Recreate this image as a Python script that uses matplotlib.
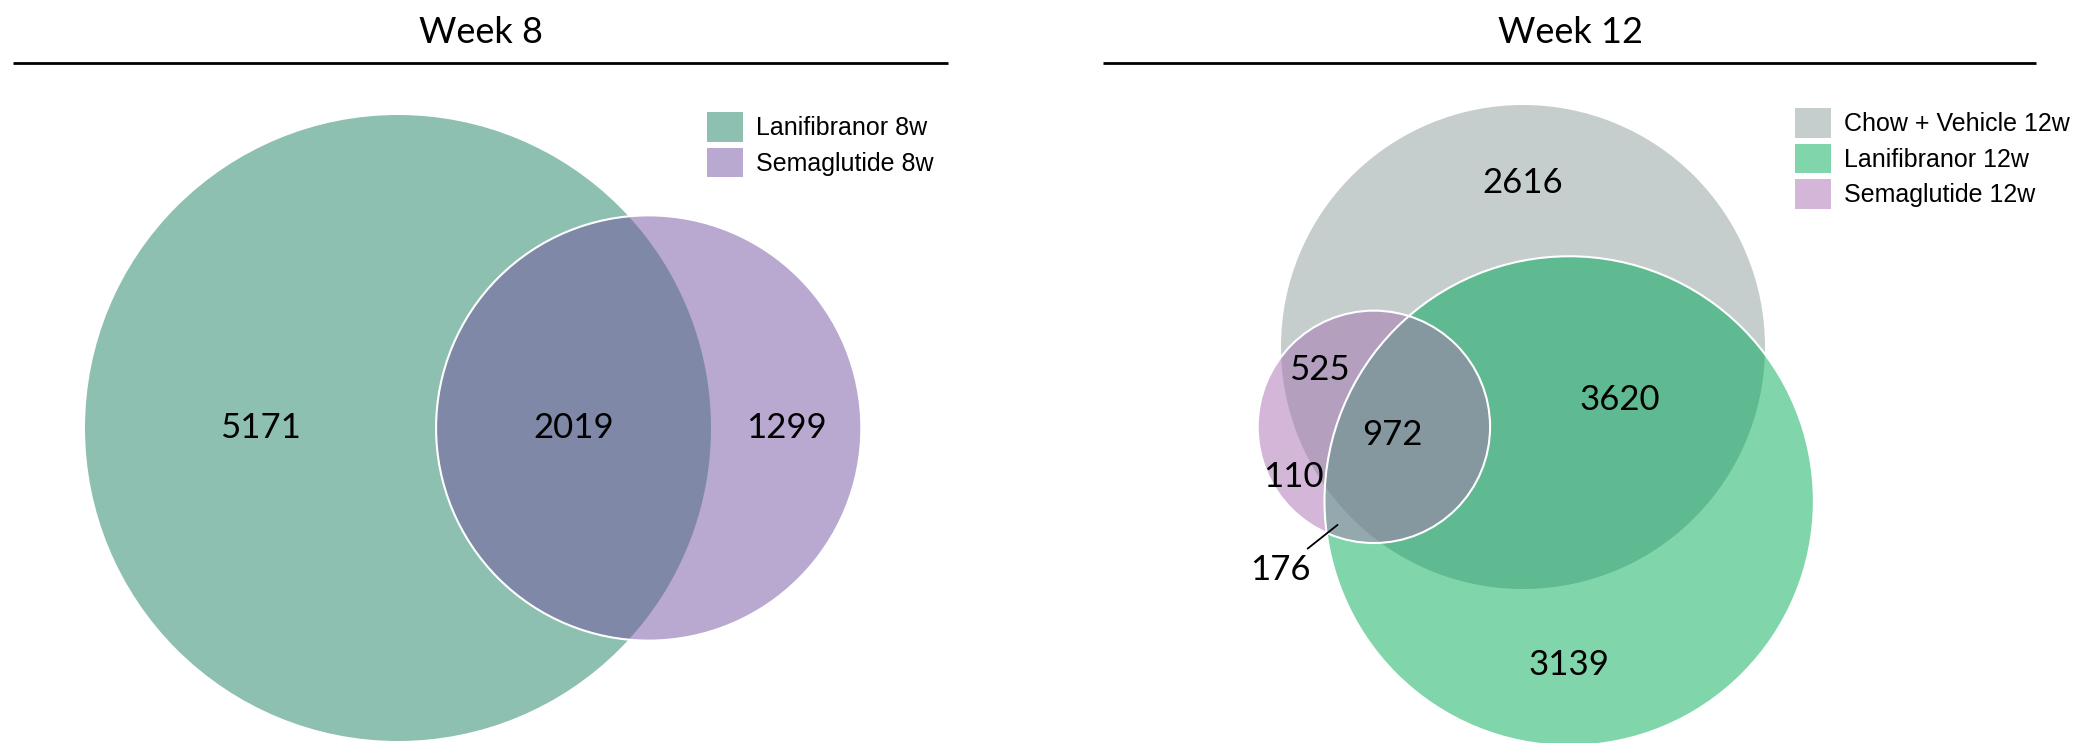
import numpy as np
import matplotlib.pyplot as plt
from matplotlib.patches import Circle, Polygon, Patch

# -------------------------------
# DATA: region counts per Venn diagram
# -------------------------------
week8_sets = ["Lanifibranor 8w", "Semaglutide 8w"]
week8_regions = ["10", "01", "11"]
week8_counts = [5171, 1299, 2019]

week12_sets = ["Chow + Vehicle 12w", "Lanifibranor 12w", "Semaglutide 12w"]
week12_regions = ["100", "010", "001", "110", "101", "011", "111"]
week12_counts = [2616, 3139, 110, 3620, 525, 176, 972]

# colours
week8_colors = {"10": "#8DC0B0", "01": "#B9A8D0", "11": "#8088A8"}
week12_colors = {"100": "#C5CDCD", "010": "#80D6AA", "001": "#D3B6D8",
                 "110": "#5FB991", "101": "#B4A0BE", "011": "#93A9AE",
                 "111": "#8598A0"}

W, H = 2093, 743
NUM_FONT = "Lato"
LEG_FONT = "Liberation Sans"
LEG_SIZE = 18


# -------------------------------
# GEOMETRY HELPERS
# -------------------------------
def set_size(regions, counts, i):
    return sum(c for k, c in zip(regions, counts) if k[i] == "1")


def pair_size(regions, counts, i, j):
    return sum(c for k, c in zip(regions, counts) if k[i] == "1" and k[j] == "1")


def lens_area(r1, r2, d):
    if d >= r1 + r2:
        return 0.0
    if d <= abs(r1 - r2):
        return np.pi * min(r1, r2) ** 2
    a1 = r1 ** 2 * np.arccos((d ** 2 + r1 ** 2 - r2 ** 2) / (2 * d * r1))
    a2 = r2 ** 2 * np.arccos((d ** 2 + r2 ** 2 - r1 ** 2) / (2 * d * r2))
    a3 = 0.5 * np.sqrt((-d + r1 + r2) * (d + r1 - r2) * (d - r1 + r2) * (d + r1 + r2))
    return a1 + a2 - a3


def solve_distance(r1, r2, area):
    lo, hi = abs(r1 - r2), r1 + r2
    for _ in range(100):
        mid = (lo + hi) / 2
        if lens_area(r1, r2, mid) > area:
            lo = mid
        else:
            hi = mid
    return (lo + hi) / 2


def lens_polygon(c1, r1, c2, r2, n=1440):
    t = np.linspace(0, 2 * np.pi, n, endpoint=False)
    ring = np.c_[np.cos(t), np.sin(t)]
    p1 = c1 + r1 * ring
    p2 = c2 + r2 * ring
    p1 = p1[np.hypot(*(p1 - c2).T) <= r2]
    p2 = p2[np.hypot(*(p2 - c1).T) <= r1]
    pts = np.vstack([p1, p2])
    mid = pts.mean(axis=0)
    ang = np.arctan2(pts[:, 1] - mid[1], pts[:, 0] - mid[0])
    return pts[np.argsort(ang)]


class RegionGrid:
    """Pixel grid over a diagram, used to find where region labels go."""

    def __init__(self, centers, radii):
        x0 = min(c[0] - r for c, r in zip(centers, radii))
        x1 = max(c[0] + r for c, r in zip(centers, radii))
        y0 = min(c[1] - r for c, r in zip(centers, radii))
        y1 = max(c[1] + r for c, r in zip(centers, radii))
        self.xs = np.arange(x0, x1, 1.0)
        self.ys = np.arange(y0, y1, 1.0)
        X, Y = np.meshgrid(self.xs, self.ys)
        self.X, self.Y = X, Y
        dist = [np.hypot(X - c[0], Y - c[1]) for c in centers]
        self.inside = [d <= r for d, r in zip(dist, radii)]
        self.clear = np.min([np.abs(d - r) for d, r in zip(dist, radii)], axis=0)

    def mask(self, key):
        m = np.ones_like(self.X, dtype=bool)
        for i, ch in enumerate(key):
            m &= self.inside[i] == (ch == "1")
        return m

    def pole(self, key):
        # point farthest from every circle boundary
        idx = np.argmax(np.where(self.mask(key), self.clear, -1))
        return self.X.flat[idx], self.Y.flat[idx]

    def row_mid(self, key, y):
        j = np.argmin(np.abs(self.ys - y))
        xs = self.xs[self.mask(key)[j]]
        return (xs.min() + xs.max()) / 2, y

    def col_mid(self, key, x):
        i = np.argmin(np.abs(self.xs - x))
        ys = self.ys[self.mask(key)[:, i]]
        return x, (ys.min() + ys.max()) / 2


def add_legend(colors, labels, x, y):
    fs_px = LEG_SIZE * 100 / 72
    return ax.legend(handles=[Patch(facecolor=c, edgecolor="none") for c in colors],
                     labels=labels, loc="upper left", bbox_to_anchor=(x / W, 1 - y / H),
                     bbox_transform=fig.transFigure, frameon=False, borderpad=0,
                     borderaxespad=0, handlelength=36 / fs_px, handleheight=36 / fs_px,
                     handletextpad=13 / fs_px, labelspacing=6 / fs_px,
                     prop={"family": LEG_FONT, "size": LEG_SIZE})


# -------------------------------
# FIGURE
# -------------------------------
fig = plt.figure(figsize=(W / 100, H / 100), dpi=100)
ax = fig.add_axes([0, 0, 1, 1])
ax.set_xlim(0, W)
ax.set_ylim(H, 0)
ax.axis("off")

# panel titles with rules
for title, xc, (xa, xb) in [("Week 8", 481, (13, 948)), ("Week 12", 1571, (1103, 2036))]:
    ax.text(xc, 43, title, ha="center", va="baseline", fontsize=26, family=NUM_FONT)
    ax.plot([xa, xb], [63, 63], color="black", lw=2, solid_capstyle="butt")

# -------------------------------
# WEEK 8: two-set Venn
# -------------------------------
nA = set_size(week8_regions, week8_counts, 0)
nB = set_size(week8_regions, week8_counts, 1)
nAB = pair_size(week8_regions, week8_counts, 0, 1)
rA, rB = np.sqrt(nA / np.pi), np.sqrt(nB / np.pi)
dAB = solve_distance(rA, rB, nAB)

k8 = 313 / rA
cA = np.array([398.0, 428.0])
cB = cA + np.array([dAB * k8, 0.0])
RA, RB = rA * k8, rB * k8

ax.add_patch(Circle(cA, RA, facecolor=week8_colors["10"], edgecolor="none", zorder=1))
ax.add_patch(Circle(cB, RB, facecolor=week8_colors["01"], edgecolor="none", zorder=1))
ax.add_patch(Polygon(lens_polygon(cA, RA, cB, RB), closed=True,
                     facecolor=week8_colors["11"], edgecolor="none", zorder=2))
ax.add_patch(Circle(cB, RB, facecolor="none", edgecolor="white", lw=1.5, zorder=4))

grid8 = RegionGrid([cA, cB], [RA, RB])
for key, n in zip(week8_regions, week8_counts):
    x, y = grid8.row_mid(key, cA[1])
    ax.text(x, y, str(n), ha="center", va="center", fontsize=25, family=NUM_FONT, zorder=5)

leg8 = add_legend([week8_colors[k] for k in ["10", "01"]], week8_sets, 707, 112)
ax.add_artist(leg8)

# -------------------------------
# WEEK 12: three-set Venn
# -------------------------------
nG = set_size(week12_regions, week12_counts, 0)
nL = set_size(week12_regions, week12_counts, 1)
nS = set_size(week12_regions, week12_counts, 2)
rG, rL, rS = (np.sqrt(n / np.pi) for n in (nG, nL, nS))
dGL = solve_distance(rG, rL, pair_size(week12_regions, week12_counts, 0, 1))
dGS = solve_distance(rG, rS, pair_size(week12_regions, week12_counts, 0, 2))
dLS = solve_distance(rL, rS, pair_size(week12_regions, week12_counts, 1, 2))

k12 = 242 / rG
theta = np.deg2rad(73.3)
alpha = np.arccos((dGL ** 2 + dGS ** 2 - dLS ** 2) / (2 * dGL * dGS))
cG = np.array([1523.0, 347.0])
cL = cG + dGL * k12 * np.array([np.cos(theta), np.sin(theta)])
cS = cG + dGS * k12 * np.array([np.cos(theta + alpha), np.sin(theta + alpha)])
RG, RL, RS = rG * k12, rL * k12, rS * k12

for c, r, key in [(cG, RG, "100"), (cL, RL, "010"), (cS, RS, "001")]:
    ax.add_patch(Circle(c, r, facecolor=week12_colors[key], edgecolor="none", zorder=1))
for (c1, r1), (c2, r2), key in [((cG, RG), (cL, RL), "110"),
                                ((cG, RG), (cS, RS), "101"),
                                ((cL, RL), (cS, RS), "011")]:
    ax.add_patch(Polygon(lens_polygon(c1, r1, c2, r2), closed=True,
                         facecolor=week12_colors[key], edgecolor="none", zorder=2))
clipS = Circle(cS, RS, transform=ax.transData)
triple = Polygon(lens_polygon(cG, RG, cL, RL), closed=True,
                 facecolor=week12_colors["111"], edgecolor="none", zorder=3)
ax.add_patch(triple)
triple.set_clip_path(clipS)
for c, r in [(cL, RL), (cS, RS)]:
    ax.add_patch(Circle(c, r, facecolor="none", edgecolor="white", lw=1.5, zorder=4))

grid12 = RegionGrid([cG, cL, cS], [RG, RL, RS])
for key, n in zip(week12_regions, week12_counts):
    if key == "100":
        x, y = grid12.col_mid(key, cG[0])
    elif key == "010":
        x, y = grid12.col_mid(key, cL[0])
    elif key == "111":
        # centre of the triple region, pulled toward the small circle
        px, py = grid12.pole(key)
        x, y = (px + cS[0]) / 2, (py + cS[1]) / 2
    else:
        x, y = grid12.pole(key)
    if key == "011":
        # tiny region: label outside with a leader line
        ax.annotate(str(n), xy=(x, y), xytext=(-58, -46), textcoords="offset pixels",
                    ha="center", va="center", fontsize=25, family=NUM_FONT, zorder=5,
                    arrowprops=dict(arrowstyle="-", color="black", lw=1.3,
                                    shrinkA=3, shrinkB=1))
    else:
        ax.text(x, y, str(n), ha="center", va="center", fontsize=25, family=NUM_FONT, zorder=5)

add_legend([week12_colors[k] for k in ["100", "010", "001"]], week12_sets, 1795, 108)

fig.savefig("out.png", dpi=100)
